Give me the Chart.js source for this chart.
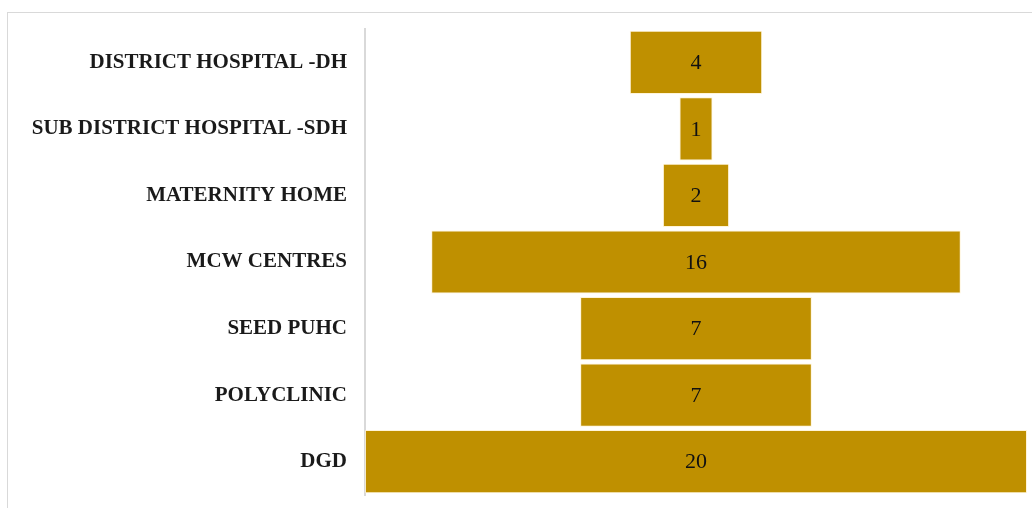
<!DOCTYPE html>
<html>
<head>
<meta charset="utf-8">
<script src="https://cdn.jsdelivr.net/npm/chart.js@4"></script>
<style>
  html, body { margin: 0; padding: 0; background: #fff; overflow: hidden; }
  #frame { position: absolute; left: 7px; top: 12px; width: 1060px; height: 540px; border: 1px solid #d9d9d9; }
  #funnel { position: absolute; left: 0; top: 0; }
</style>
</head>
<body>
<div id="frame"></div>
<canvas id="funnel" width="1032" height="508"></canvas>
<script>
const categories = [
  "DISTRICT HOSPITAL -DH",
  "SUB DISTRICT HOSPITAL -SDH",
  "MATERNITY HOME",
  "MCW CENTRES",
  "SEED PUHC",
  "POLYCLINIC",
  "DGD"
];
const counts = [4, 1, 2, 16, 7, 7, 20];

const maxCount = Math.max(...counts);
// centred bars: each one spans [-v/2, v/2]
const spans = counts.map((v) => [-v / 2, v / 2]);

const centreLabels = {
  id: "centreLabels",
  afterDatasetsDraw(chart) {
    const ctx = chart.ctx;
    const meta = chart.getDatasetMeta(0);
    ctx.save();
    ctx.font = "22px 'Liberation Serif', serif";
    ctx.fillStyle = "#111";
    ctx.textAlign = "center";
    ctx.textBaseline = "middle";
    meta.data.forEach((bar, i) => {
      const x = chart.scales.x.getPixelForValue(0);
      ctx.fillText(String(counts[i]), x, bar.y + 1);
    });
    ctx.restore();
  }
};

new Chart(document.getElementById("funnel"), {
  type: "bar",
  data: {
    labels: categories,
    datasets: [{
      data: spans,
      backgroundColor: "#BF9000",
      borderColor: "rgba(255,240,200,0.7)",
      borderWidth: 1,
      borderSkipped: false,
      barPercentage: 0.95,
      categoryPercentage: 1
    }]
  },
  options: {
    indexAxis: "y",
    responsive: false,
    animation: false,
    layout: { padding: { top: 29, bottom: 13, right: 5, left: 0 } },
    plugins: { legend: { display: false }, tooltip: { enabled: false } },
    scales: {
      x: {
        display: false,
        min: -maxCount / 2,
        max: maxCount / 2
      },
      y: {
        afterFit(scale) {
          scale.width = 365;
          scale.paddingTop = 0;
          scale.paddingBottom = 0;
        },
        grid: { display: false, drawTicks: false },
        border: { display: true, color: "#d9d9d9", width: 2 },
        ticks: {
          padding: 18,
          color: "#1a1a1a",
          font: { family: "'Liberation Serif', serif", size: 21, weight: "bold" }
        }
      }
    }
  },
  plugins: [centreLabels]
});
</script>
</body>
</html>
